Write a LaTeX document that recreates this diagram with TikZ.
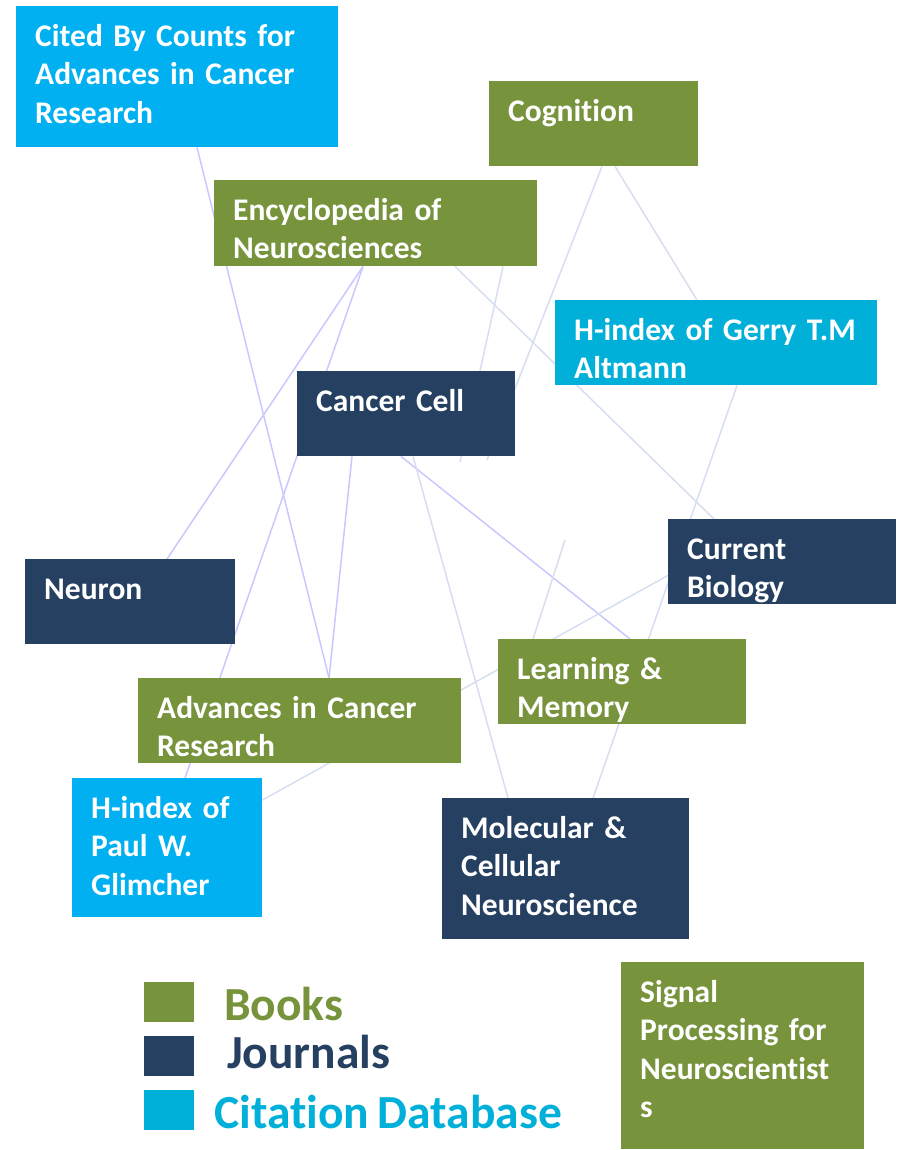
\documentclass[tikz,border=0pt]{standalone}
\usepackage{fontspec}
\setmainfont{Carlito}[Ligatures=NoCommon, WordSpace=0.8]
\usepackage{tikz}
\usetikzlibrary{calc,backgrounds}
\tikzset{>=latex}
\definecolor{mygreen}{RGB}{119, 147, 60}
\definecolor{mynavy}{RGB}{38, 64, 97}
\definecolor{myblue}{RGB}{0, 176, 240}
\definecolor{myteal}{RGB}{0, 176, 216}
\definecolor{mylav}{RGB}{200, 200, 255}
\definecolor{mygray}{RGB}{214, 222, 240}
\tikzset{
  item/.style={anchor=north west, inner xsep=19pt, inner ysep=0pt, text height=40pt,
    align=left, text=white, font=\fontsize{31.5}{38.5}\selectfont\bfseries},
  link/.style={draw=mylav, line width=1.5pt},
  faint/.style={draw=mygray, line width=1.5pt},
  keybox/.style={anchor=north west, minimum width=50pt, minimum height=40pt, inner sep=0pt},
  keytext/.style={anchor=base west, inner sep=0pt, font=\fontsize{47.5}{52}\selectfont\bfseries}
}

\begin{document}
\begin{tikzpicture}[x=1pt, y=-1pt]
\useasboundingbox (0,0) rectangle (901,1150);
% boxes
\node[item, fill=myblue, text width=284pt, text depth=101pt] (cited) at (16,6) {Cited By Counts for\\Advances in Cancer\\Research};
\node[item, fill=mygreen, text width=171pt, text depth=45pt] (cog) at (489,81) {Cognition};
\node[item, fill=mygreen, text width=285pt, text depth=46pt] (enc) at (214,180) {Encyclopedia of\\Neurosciences};
\node[item, fill=myteal, text width=284pt, text depth=45pt] (gerry) at (555,300) {H-index of Gerry T.M\\Altmann};
\node[item, fill=mynavy, text width=180pt, text depth=45pt] (cc) at (297,371) {Cancer Cell};
\node[item, fill=mynavy, text width=190pt, text depth=45pt] (cb) at (668,519) {Current\\Biology};
\node[item, fill=mynavy, text width=172pt, text depth=45pt] (neuron) at (25,559) {Neuron};
\node[item, fill=mygreen, text width=210pt, text depth=45pt] (lm) at (498,639) {Learning \&\\Memory};
\node[item, fill=mygreen, text width=285pt, text depth=45pt] (adv) at (138,678) {Advances in Cancer\\Research};
\node[item, fill=myblue, text width=152pt, text depth=99pt] (paul) at (72,778) {H-index of\\Paul W.\\Glimcher};
\node[item, fill=mynavy, text width=209pt, text depth=101pt] (mol) at (442,798) {Molecular \&\\Cellular\\Neuroscience};
\node[item, fill=mygreen, text width=205pt, text depth=147pt] (sig) at (621,962) {Signal\\Processing for\\Neuroscientist\\s};

% loose ends
\coordinate (encend) at (460,462);
\coordinate (cogend) at (487,460);
\coordinate (lmfrom) at (565,540);

\begin{pgfonlayer}{background}
\draw[link] ($(cited.south west)+(181,0)$) -- ($(adv.north west)+(191,0)$);
\draw[link] ($(enc.south west)+(149,0)$) -- ($(neuron.north west)+(142,0)$);
\draw[link] ($(enc.south west)+(149,0)$) -- ($(paul.north west)+(113,0)$);
\draw[link] ($(cc.south west)+(55,0)$) -- ($(adv.north west)+(191,0)$);
\draw[link] ($(cc.south west)+(104,0)$) -- ($(lm.north west)+(132,0)$);
\draw[faint] ($(cc.south west)+(116,0)$) -- ($(mol.north west)+(66,0)$);
\draw[faint] ($(enc.south west)+(289,0)$) -- (encend);
\draw[faint] ($(cog.south west)+(113,0)$) -- (cogend);
\draw[faint] ($(cog.south west)+(126,0)$) -- ($(gerry.north west)+(142,0)$);
\draw[faint] ($(enc.south west)+(241,0)$) -- ($(cb.north west)+(46,0)$);
\draw[faint] ($(gerry.south west)+(182,0)$) -- ($(mol.north west)+(151,0)$);
\draw[faint] ($(cb.south west)+(0,-29)$) -- ($(paul.north east)+(0,22)$);
\draw[faint] (lmfrom) -- ($(lm.north west)+(35,0)$);
\end{pgfonlayer}

% key
\node[keybox, fill=mygreen] (keybook) at (144,982) {};
\node[keybox, fill=mynavy] (keyjour) at (144,1036) {};
\node[keybox, fill=myteal] (keycite) at (144,1090) {};
\node[keytext, text=mygreen] (keybooktxt) at (224,1020) {Books};
\node[keytext, text=mynavy] (keyjourtxt) at (227,1068) {Journals};
\node[keytext, text=myteal] (keycitetxt) at (214,1128) {Citation Database};
\end{tikzpicture}
\end{document}
